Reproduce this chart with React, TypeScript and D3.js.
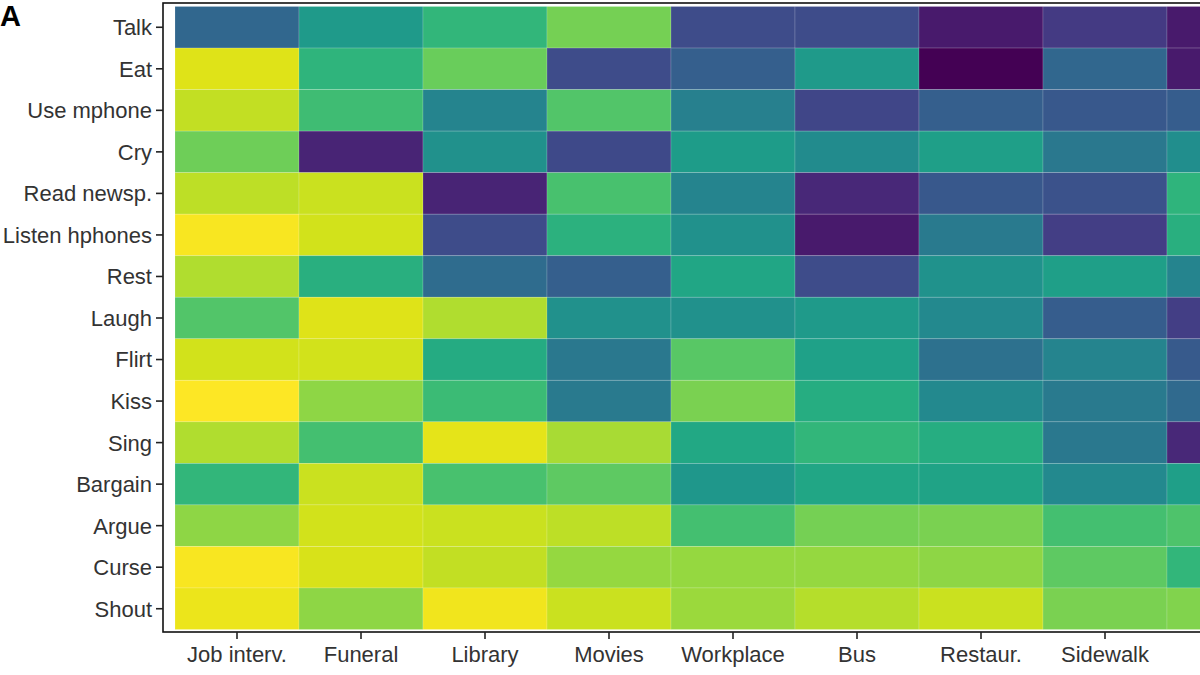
import { useEffect, useRef } from 'react';
import * as d3 from 'd3';

const activities = [
  'Talk', 'Eat', 'Use mphone', 'Cry', 'Read newsp.', 'Listen hphones', 'Rest', 'Laugh',
  'Flirt', 'Kiss', 'Sing', 'Bargain', 'Argue', 'Curse', 'Shout',
];

const places = ['Job interv.', 'Funeral', 'Library', 'Movies', 'Workplace', 'Bus', 'Restaur.', 'Sidewalk', 'Park'];

// appropriateness scores (0..1), one row per activity, columns follow `places`
const scores = [
  [0.33, 0.54, 0.66, 0.79, 0.23, 0.23, 0.07, 0.17, 0.07],
  [0.95, 0.65, 0.77, 0.23, 0.30, 0.54, 0.00, 0.33, 0.07],
  [0.91, 0.69, 0.45, 0.73, 0.43, 0.21, 0.30, 0.27, 0.29],
  [0.78, 0.10, 0.50, 0.22, 0.55, 0.48, 0.56, 0.40, 0.49],
  [0.90, 0.92, 0.10, 0.71, 0.45, 0.11, 0.27, 0.25, 0.65],
  [0.99, 0.93, 0.23, 0.64, 0.50, 0.07, 0.41, 0.18, 0.63],
  [0.88, 0.63, 0.35, 0.30, 0.59, 0.23, 0.51, 0.56, 0.45],
  [0.73, 0.95, 0.88, 0.50, 0.50, 0.54, 0.47, 0.29, 0.18],
  [0.93, 0.93, 0.61, 0.40, 0.74, 0.57, 0.37, 0.45, 0.28],
  [1.00, 0.83, 0.68, 0.41, 0.80, 0.62, 0.47, 0.41, 0.34],
  [0.88, 0.70, 0.96, 0.87, 0.60, 0.66, 0.62, 0.40, 0.11],
  [0.66, 0.92, 0.71, 0.75, 0.53, 0.59, 0.58, 0.47, 0.56],
  [0.83, 0.93, 0.92, 0.90, 0.70, 0.79, 0.80, 0.70, 0.72],
  [0.99, 0.94, 0.91, 0.84, 0.84, 0.84, 0.83, 0.75, 0.66],
  [0.97, 0.83, 0.98, 0.92, 0.85, 0.89, 0.92, 0.80, 0.81],
];

const App = () => {
  const ref = useRef<SVGSVGElement>(null);

  useEffect(() => {
    if (!ref.current) return;
    const svg = d3.select(ref.current);
    svg.selectAll('*').remove();

    const width = 1200;
    const height = 675;
    const panel = { left: 163, top: 3, right: 1310, bottom: 632 };

    const x = d3.scaleBand<string>().domain(places).range([175, 1291]);
    const y = d3.scaleBand<string>().domain(activities).range([6.5, 629.5]);
    const color = d3.scaleSequential(d3.interpolateViridis).domain([0, 1]);

    svg.attr('width', width).attr('height', height);

    const cells = activities.flatMap((a, i) =>
      places.map((p, j) => ({ a, p, v: scores[i][j] })),
    );

    svg.append('g')
      .selectAll('rect')
      .data(cells)
      .join('rect')
      .attr('x', d => x(d.p)!)
      .attr('y', d => y(d.a)!)
      .attr('width', x.bandwidth())
      .attr('height', y.bandwidth())
      .attr('fill', d => color(d.v))
      .attr('stroke', 'rgba(255,255,255,0.2)')
      .attr('stroke-width', 0.8);

    // panel border
    svg.append('rect')
      .attr('x', panel.left)
      .attr('y', panel.top)
      .attr('width', panel.right - panel.left)
      .attr('height', panel.bottom - panel.top)
      .attr('fill', 'none')
      .attr('stroke', '#111')
      .attr('stroke-width', 1.6);

    const font = '"Liberation Sans", Arial, sans-serif';

    // y axis
    const yAxis = svg.append('g');
    activities.forEach(a => {
      const cy = y(a)! + y.bandwidth() / 2;
      yAxis.append('line')
        .attr('x1', panel.left - 7).attr('x2', panel.left)
        .attr('y1', cy).attr('y2', cy)
        .attr('stroke', '#222').attr('stroke-width', 1.6);
      yAxis.append('text')
        .attr('x', panel.left - 11)
        .attr('y', cy)
        .attr('dy', '0.36em')
        .attr('text-anchor', 'end')
        .attr('font-family', font)
        .attr('font-size', 22)
        .attr('fill', '#333')
        .text(a);
    });

    // x axis (ticks whose label would fall outside the canvas are clipped away)
    const xAxis = svg.append('g');
    places.forEach(p => {
      const cx = x(p)! + x.bandwidth() / 2;
      if (cx > width) return;
      xAxis.append('line')
        .attr('x1', cx).attr('x2', cx)
        .attr('y1', panel.bottom).attr('y2', panel.bottom + 7)
        .attr('stroke', '#222').attr('stroke-width', 1.6);
      xAxis.append('text')
        .attr('x', cx)
        .attr('y', panel.bottom + 30)
        .attr('text-anchor', 'middle')
        .attr('font-family', font)
        .attr('font-size', 22)
        .attr('fill', '#333')
        .text(p);
    });

    svg.append('text')
      .attr('x', 0)
      .attr('y', 26)
      .attr('font-family', font)
      .attr('font-weight', 'bold')
      .attr('font-size', 29)
      .attr('fill', '#000')
      .text('A');
  }, []);

  return (
    <svg
      ref={ref}
      style={{ position: 'absolute', left: 0, top: 0, overflow: 'hidden', background: '#fff' }}
    />
  );
};

export default App;
